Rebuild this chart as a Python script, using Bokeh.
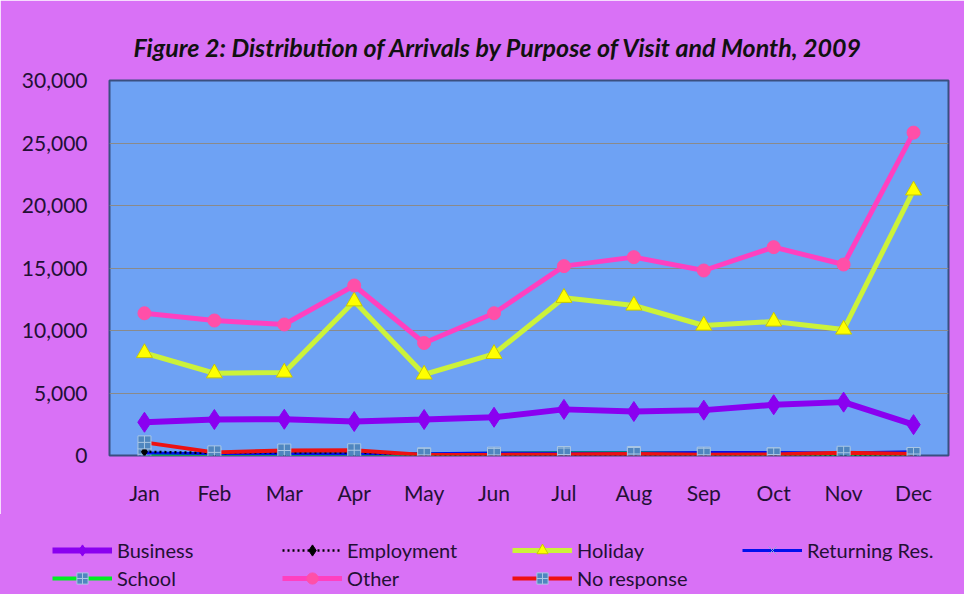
from bokeh.plotting import figure
from bokeh.layouts import column, row
from bokeh.models import Legend, LegendItem, NumeralTickFormatter, FixedTicker, Range1d
from bokeh.embed import file_html
from bokeh.resources import INLINE

months = ["Jan", "Feb", "Mar", "Apr", "May", "Jun", "Jul", "Aug", "Sep", "Oct", "Nov", "Dec"]
business = [2660, 2880, 2900, 2720, 2880, 3060, 3690, 3520, 3630, 4060, 4270, 2470]
employment = [300, 200, 250, 250, 50, 50, 50, 50, 50, 50, 50, 50]
holiday = [8200, 6580, 6640, 12340, 6480, 8130, 12620, 12000, 10400, 10720, 10080, 21210]
returning = [200, 150, 150, 150, 150, 200, 200, 200, 250, 250, 200, 300]
school = [100, 100, 100, 150, 100, 150, 200, 200, 150, 100, 100, 100]
other = [11380, 10800, 10480, 13600, 9000, 11380, 15150, 15870, 14800, 16670, 15280, 25830]
no_response = [1050, 250, 400, 420, 50, 50, 80, 120, 60, 80, 220, 120]
y_ticks = [0, 5000, 10000, 15000, 20000, 25000, 30000]

PURPLE = "#D971F6"
BLUE = "#6EA2F4"
TEXT = "#231035"
FONT = "Lato"

p = figure(x_range=months, y_range=Range1d(0, 30000), width=964, height=514,
           output_backend="svg", toolbar_location=None,
           min_border_left=109, min_border_right=16, min_border_top=80, min_border_bottom=59)
p.background_fill_color = BLUE
p.border_fill_color = PURPLE
p.outline_line_color = "#3a4f80"
p.outline_line_width = 2

p.title.text = "Figure 2: Distribution of Arrivals by Purpose of Visit and Month, 2009"
p.title.text_font = FONT
p.title.text_font_style = "bold italic"
p.title.text_font_size = "25px"
p.title.text_color = "#111111"
p.title.align = "left"
p.title.offset = 24
p.title.standoff = 38

p.yaxis.ticker = FixedTicker(ticks=y_ticks)
p.yaxis.formatter = NumeralTickFormatter(format="0,0")
for ax in (p.xaxis[0], p.yaxis[0]):
    ax.axis_line_color = None
    ax.major_tick_line_color = None
    ax.minor_tick_line_color = None
    ax.major_label_text_font = FONT
    ax.major_label_text_font_size = "21px"
    ax.major_label_text_color = TEXT
p.yaxis.major_label_standoff = 16
p.xaxis.major_label_standoff = 18
p.xgrid.grid_line_color = None
p.ygrid.grid_line_color = "#8a8a8a"
p.ygrid.grid_line_width = 1

# legend strip below the chart
lg = figure(x_range=months, y_range=Range1d(0, 30000), width=964, height=80,
            output_backend="svg", toolbar_location=None,
            x_axis_location=None, y_axis_location=None,
            min_border_left=0, min_border_right=0, min_border_top=0, min_border_bottom=0)
lg.grid.grid_line_color = None
lg.outline_line_color = PURPLE
lg.outline_line_width = 3
lg.background_fill_color = PURPLE
lg.border_fill_color = PURPLE

def series(y, color, width, marker, msize, mfill, mline, dash="solid"):
    out = []
    for fig in (p, lg):
        l = fig.line(months, y, line_color=color, line_width=width, line_dash=dash)
        s = fig.scatter(months, y, marker=marker, size=msize, fill_color=mfill, line_color=mline, line_width=1)
        if fig is lg:
            l.visible = False
            s.visible = False
            out = [l, s]
    return out

r_school = series(school, "#00EE22", 4, "square_cross", 13, "#4F86BF", "#A9C6E4")
r_ret = series(returning, "#0011EE", 3, "x", 12, "#4F86BF", "#8FA8D8")
r_emp = series(employment, "#000000", 2.5, "diamond", 9, "#000000", "#000000", dash="2 3")
r_nr = series(no_response, "#EE1111", 4, "square_cross", 13, "#4F86BF", "#A9C6E4")
r_bus = series(business, "#8A00F0", 6, "diamond", 20, "#8A00F0", "#8A00F0")
r_hol = series(holiday, "#CCF23A", 5, "triangle", 16, "#FFFF00", "#C8C800")
r_oth = series(other, "#FF40C0", 5, "circle", 13, "#FF4FA8", "#FF4FA8")

items = [
    LegendItem(label="Business", renderers=r_bus),
    LegendItem(label="School", renderers=r_school),
    LegendItem(label="Employment", renderers=r_emp),
    LegendItem(label="Other", renderers=r_oth),
    LegendItem(label="Holiday", renderers=r_hol),
    LegendItem(label="No response", renderers=r_nr),
    LegendItem(label="Returning Res.", renderers=r_ret),
]
legend = Legend(items=items, location=(52, 2), nrows=2,
                glyph_width=60, glyph_height=28, label_width=165, label_height=20,
                label_standoff=5, spacing=0, padding=0, margin=0,
                label_text_font=FONT, label_text_font_size="20px", label_text_color=TEXT,
                border_line_color=None, background_fill_alpha=0,
                inactive_fill_alpha=0, click_policy="none")
lg.add_layout(legend, "center")

open("out.html", "w").write(file_html(column(p, row(lg), spacing=0), INLINE))
